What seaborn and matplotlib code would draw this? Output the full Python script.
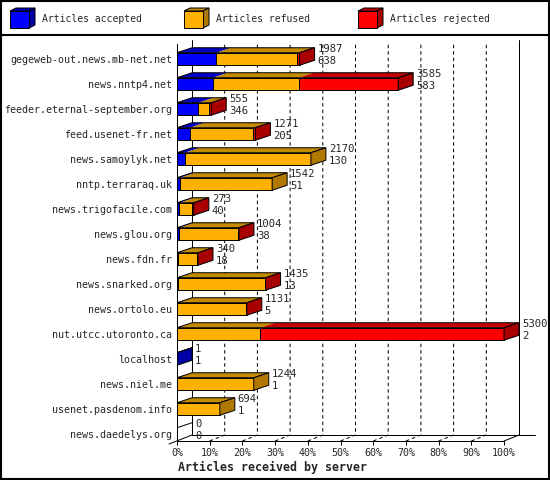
import numpy as np
import pandas as pd
import seaborn as sns
import matplotlib.pyplot as plt
from matplotlib.patches import Polygon, Rectangle

servers = ["gegeweb-out.news.mb-net.net", "news.nntp4.net", "feeder.eternal-september.org",
           "feed.usenet-fr.net", "news.samoylyk.net", "nntp.terraraq.uk", "news.trigofacile.com",
           "news.glou.org", "news.fdn.fr", "news.snarked.org", "news.ortolo.eu",
           "nut.utcc.utoronto.ca", "localhost", "news.niel.me", "usenet.pasdenom.info",
           "news.daedelys.org"]
totals = [1987, 3585, 555, 1271, 2170, 1542, 273, 1004, 340, 1435, 1131, 5300, 1, 1244, 694, 0]
accepted = [638, 583, 346, 205, 130, 51, 40, 38, 18, 13, 5, 2, 1, 1, 1, 0]
refused = [1314, 1392, 179, 1021, 2040, 1491, 208, 946, 300, 1407, 1108, 1348, 0, 1243, 693, 0]
rejected = [35, 1610, 30, 45, 0, 0, 25, 20, 22, 15, 18, 3950, 0, 0, 0, 0]
legend_labels = ["Articles accepted", "Articles refused", "Articles rejected"]
pct_labels = ["0%", "10%", "20%", "30%", "40%", "50%", "60%", "70%", "80%", "90%", "100%"]
X_MAX = 5300  # value drawn as 100%

FRONT = ["#0000ff", "#ffb000", "#ff0000"]
TOP = ["#0000c4", "#c48a00", "#c40000"]
SIDE = ["#0000a4", "#b07800", "#a80000"]

sns.set_theme(style="white")
plt.rcParams["font.family"] = ["DejaVu Sans Mono"]

W, H = 550, 480
fig = plt.figure(figsize=(5.5, 4.8), dpi=100)

# background axes in pixel units: border, legend, title
pix = fig.add_axes([0, 0, 1, 1])
pix.set_xlim(0, W)
pix.set_ylim(H, 0)
pix.axis("off")
pix.add_patch(Rectangle((1, 1), W - 2, H - 2, fill=False, lw=1.5, edgecolor="black"))
pix.plot([0, W], [35, 35], color="black", lw=1.5)
for j, (lbl, x0) in enumerate(zip(legend_labels, [10, 184, 358])):
    pix.add_patch(Polygon([(x0, 11), (x0 + 19, 11), (x0 + 25, 8), (x0 + 6, 8)],
                          facecolor=TOP[j], edgecolor="black", lw=0.72))
    pix.add_patch(Polygon([(x0 + 19, 11), (x0 + 25, 8), (x0 + 25, 25), (x0 + 19, 28)],
                          facecolor=SIDE[j], edgecolor="black", lw=0.72))
    pix.add_patch(Rectangle((x0, 11), 19, 17, facecolor=FRONT[j], edgecolor="black", lw=0.72))
    pix.text(x0 + 32, 19.5, lbl, fontsize=7, va="center", ha="left")
pix.text(273, 467, "Articles received by server", fontsize=8.4, fontweight="bold",
         ha="center", va="center")

# plot geometry (pixels)
X0, X100 = 177, 504
s = X_MAX / (X100 - X0)
ROW0, PITCH = 59, 25


def px(x):
    return (x - X0) * s


def row(y):
    return (y - ROW0) / PITCH


AX_L, AX_R, AX_T, AX_B = 177, 536, 38, 441
ax = fig.add_axes([AX_L / W, 1 - AX_B / H, (AX_R - AX_L) / W, (AX_B - AX_T) / H])
ax.set_facecolor("none")

df = pd.DataFrame({"server": servers, "acc": accepted, "ref": refused, "rej": rejected})
df["acc_ref"] = df["acc"] + df["ref"]
df["all"] = df["acc_ref"] + df["rej"]

for col, c in zip(["all", "acc_ref", "acc"], [FRONT[2], FRONT[1], FRONT[0]]):
    sns.barplot(data=df, x=col, y="server", orient="h", color=c, saturation=1,
                width=0.5, edgecolor="black", linewidth=0.72, errorbar=None, ax=ax, zorder=2)

DX = 15 * s
DY = 5 / PITCH
HB = 0.25

# 3D faces
for i, r in df.iterrows():
    yt, yb = i - HB, i + HB
    bounds = [0, r["acc"], r["acc_ref"], r["all"]]
    if r["all"] == 0:
        ax.plot([0, DX], [yt, yt - DY], color="black", lw=0.72, zorder=3)
    else:
        last = 0
        for k in range(3):
            a, b = bounds[k], bounds[k + 1]
            if b > a:
                last = k
                ax.add_patch(Polygon([(a, yt), (b, yt), (b + DX, yt - DY), (a + DX, yt - DY)],
                                     facecolor=TOP[k], edgecolor="none", zorder=3))
        e = r["all"]
        ax.add_patch(Polygon([(0, yt), (e, yt), (e + DX, yt - DY), (DX, yt - DY)],
                             fill=False, edgecolor="black", lw=0.72, zorder=4))
        ax.add_patch(Polygon([(e, yt), (e + DX, yt - DY), (e + DX, yb - DY), (e, yb)],
                             facecolor=SIDE[last], edgecolor="black", lw=0.72, zorder=4))
    xl = r["all"] + DX + 3 * s
    ax.text(xl, i - 0.41, str(totals[i]), fontsize=7.6, va="center", ha="left")
    ax.text(xl, i + 0.06, str(accepted[i]), fontsize=7.6, va="center", ha="left")

# walls, floor and dashed grid
kw = dict(color="black", lw=0.72, clip_on=False)
for k in range(1, 10):
    fx = k * X_MAX / 10
    ax.plot([fx, fx + DX, fx + DX], [row(441), row(435), row(44)], ls=(0, (3.5, 3)), zorder=0.5, **kw)
ax.plot([DX, DX], [row(435), row(40)], zorder=0.5, **kw)
ax.plot([X_MAX + DX, X_MAX + DX], [row(435), row(40)], zorder=0.5, **kw)
ax.plot([0, 0], [row(441), row(44)], zorder=5, **kw)
ax.plot([0, X_MAX], [row(441), row(441)], zorder=5, **kw)
ax.plot([DX, px(535)], [row(435), row(435)], zorder=0.5, **kw)
ax.plot([px(169), DX], [row(444), row(435)], zorder=0.5, **kw)
ax.plot([X_MAX, X_MAX + DX], [row(441), row(435)], zorder=0.5, **kw)

ax.set_xlim(0, (AX_R - AX_L) * s)
ax.set_ylim(row(AX_B), row(AX_T))
for sp in ax.spines.values():
    sp.set_visible(False)
ax.set_xticks([k * X_MAX / 10 for k in range(11)], pct_labels)
ax.set_yticks(range(len(servers)), servers)
ax.tick_params(axis="x", bottom=True, length=2.9, width=0.72, pad=2, labelsize=7.2, color="black")
ax.tick_params(axis="y", left=False, length=0, pad=3.6, labelsize=7.2)
ax.set_xlabel("")
ax.set_ylabel("")

fig.savefig("out.png", dpi=100)
